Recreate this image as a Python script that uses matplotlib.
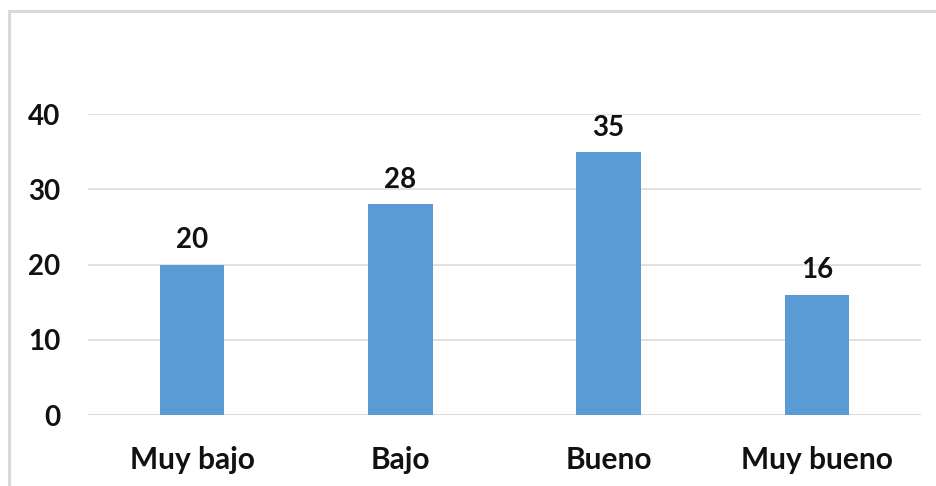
import matplotlib
matplotlib.use("Agg")
import matplotlib.pyplot as plt
from matplotlib.patches import Rectangle

categories = ["Muy bajo", "Bajo", "Bueno", "Muy bueno"]
values = [20, 28, 35, 16]
yticks = [0, 10, 20, 30, 40]

BAR_COLOR = "#5B9BD5"
GRID_COLOR = "#D9D9D9"
FONT = ["Lato", "DejaVu Sans"]
FSIZE = 20

fig = plt.figure(figsize=(9.36, 4.86), dpi=100)
fig.patch.set_facecolor("white")

# light frame around the chart area
fig.patches.append(Rectangle((9 / 936, -0.05), 1.2, 1 - 11 / 486 + 0.05,
                             transform=fig.transFigure, fill=False,
                             edgecolor=GRID_COLOR, linewidth=2.2))

ax = fig.add_axes([88 / 936, 1 - 415 / 486, (921 - 88) / 936, (415 - 114) / 486])
x = range(len(categories))
bars = ax.bar(x, values, width=0.31, color=BAR_COLOR, zorder=3)

ax.set_xlim(-0.5, len(categories) - 0.5)
ax.set_ylim(0, 40)
ax.set_yticks(yticks)
ax.set_yticklabels([str(t) for t in yticks])
ax.set_xticks(list(x))
ax.set_xticklabels(categories)

for s in ax.spines.values():
    s.set_visible(False)
ax.grid(axis="y", color=GRID_COLOR, linewidth=1.1, zorder=0)
ax.axhline(0, color=GRID_COLOR, linewidth=1.1, zorder=1)
ax.tick_params(length=0)
ax.tick_params(axis="y", pad=20)
ax.tick_params(axis="x", pad=22)
for lab in ax.get_yticklabels():
    lab.set_fontfamily(FONT)
    lab.set_fontweight("bold")
    lab.set_fontsize(FSIZE)
    lab.set_color("#111111")
for lab in ax.get_xticklabels():
    lab.set_fontfamily(FONT)
    lab.set_fontweight("bold")
    lab.set_fontsize(21.5)
    lab.set_color("#111111")

for rect, v in zip(bars, values):
    ax.annotate(str(v), (rect.get_x() + rect.get_width() / 2, v),
                xytext=(0, 8), textcoords="offset points",
                ha="center", va="bottom", fontsize=FSIZE, fontweight="bold",
                family=FONT, color="#111111", clip_on=False)

fig.savefig("out.png", dpi=100)
